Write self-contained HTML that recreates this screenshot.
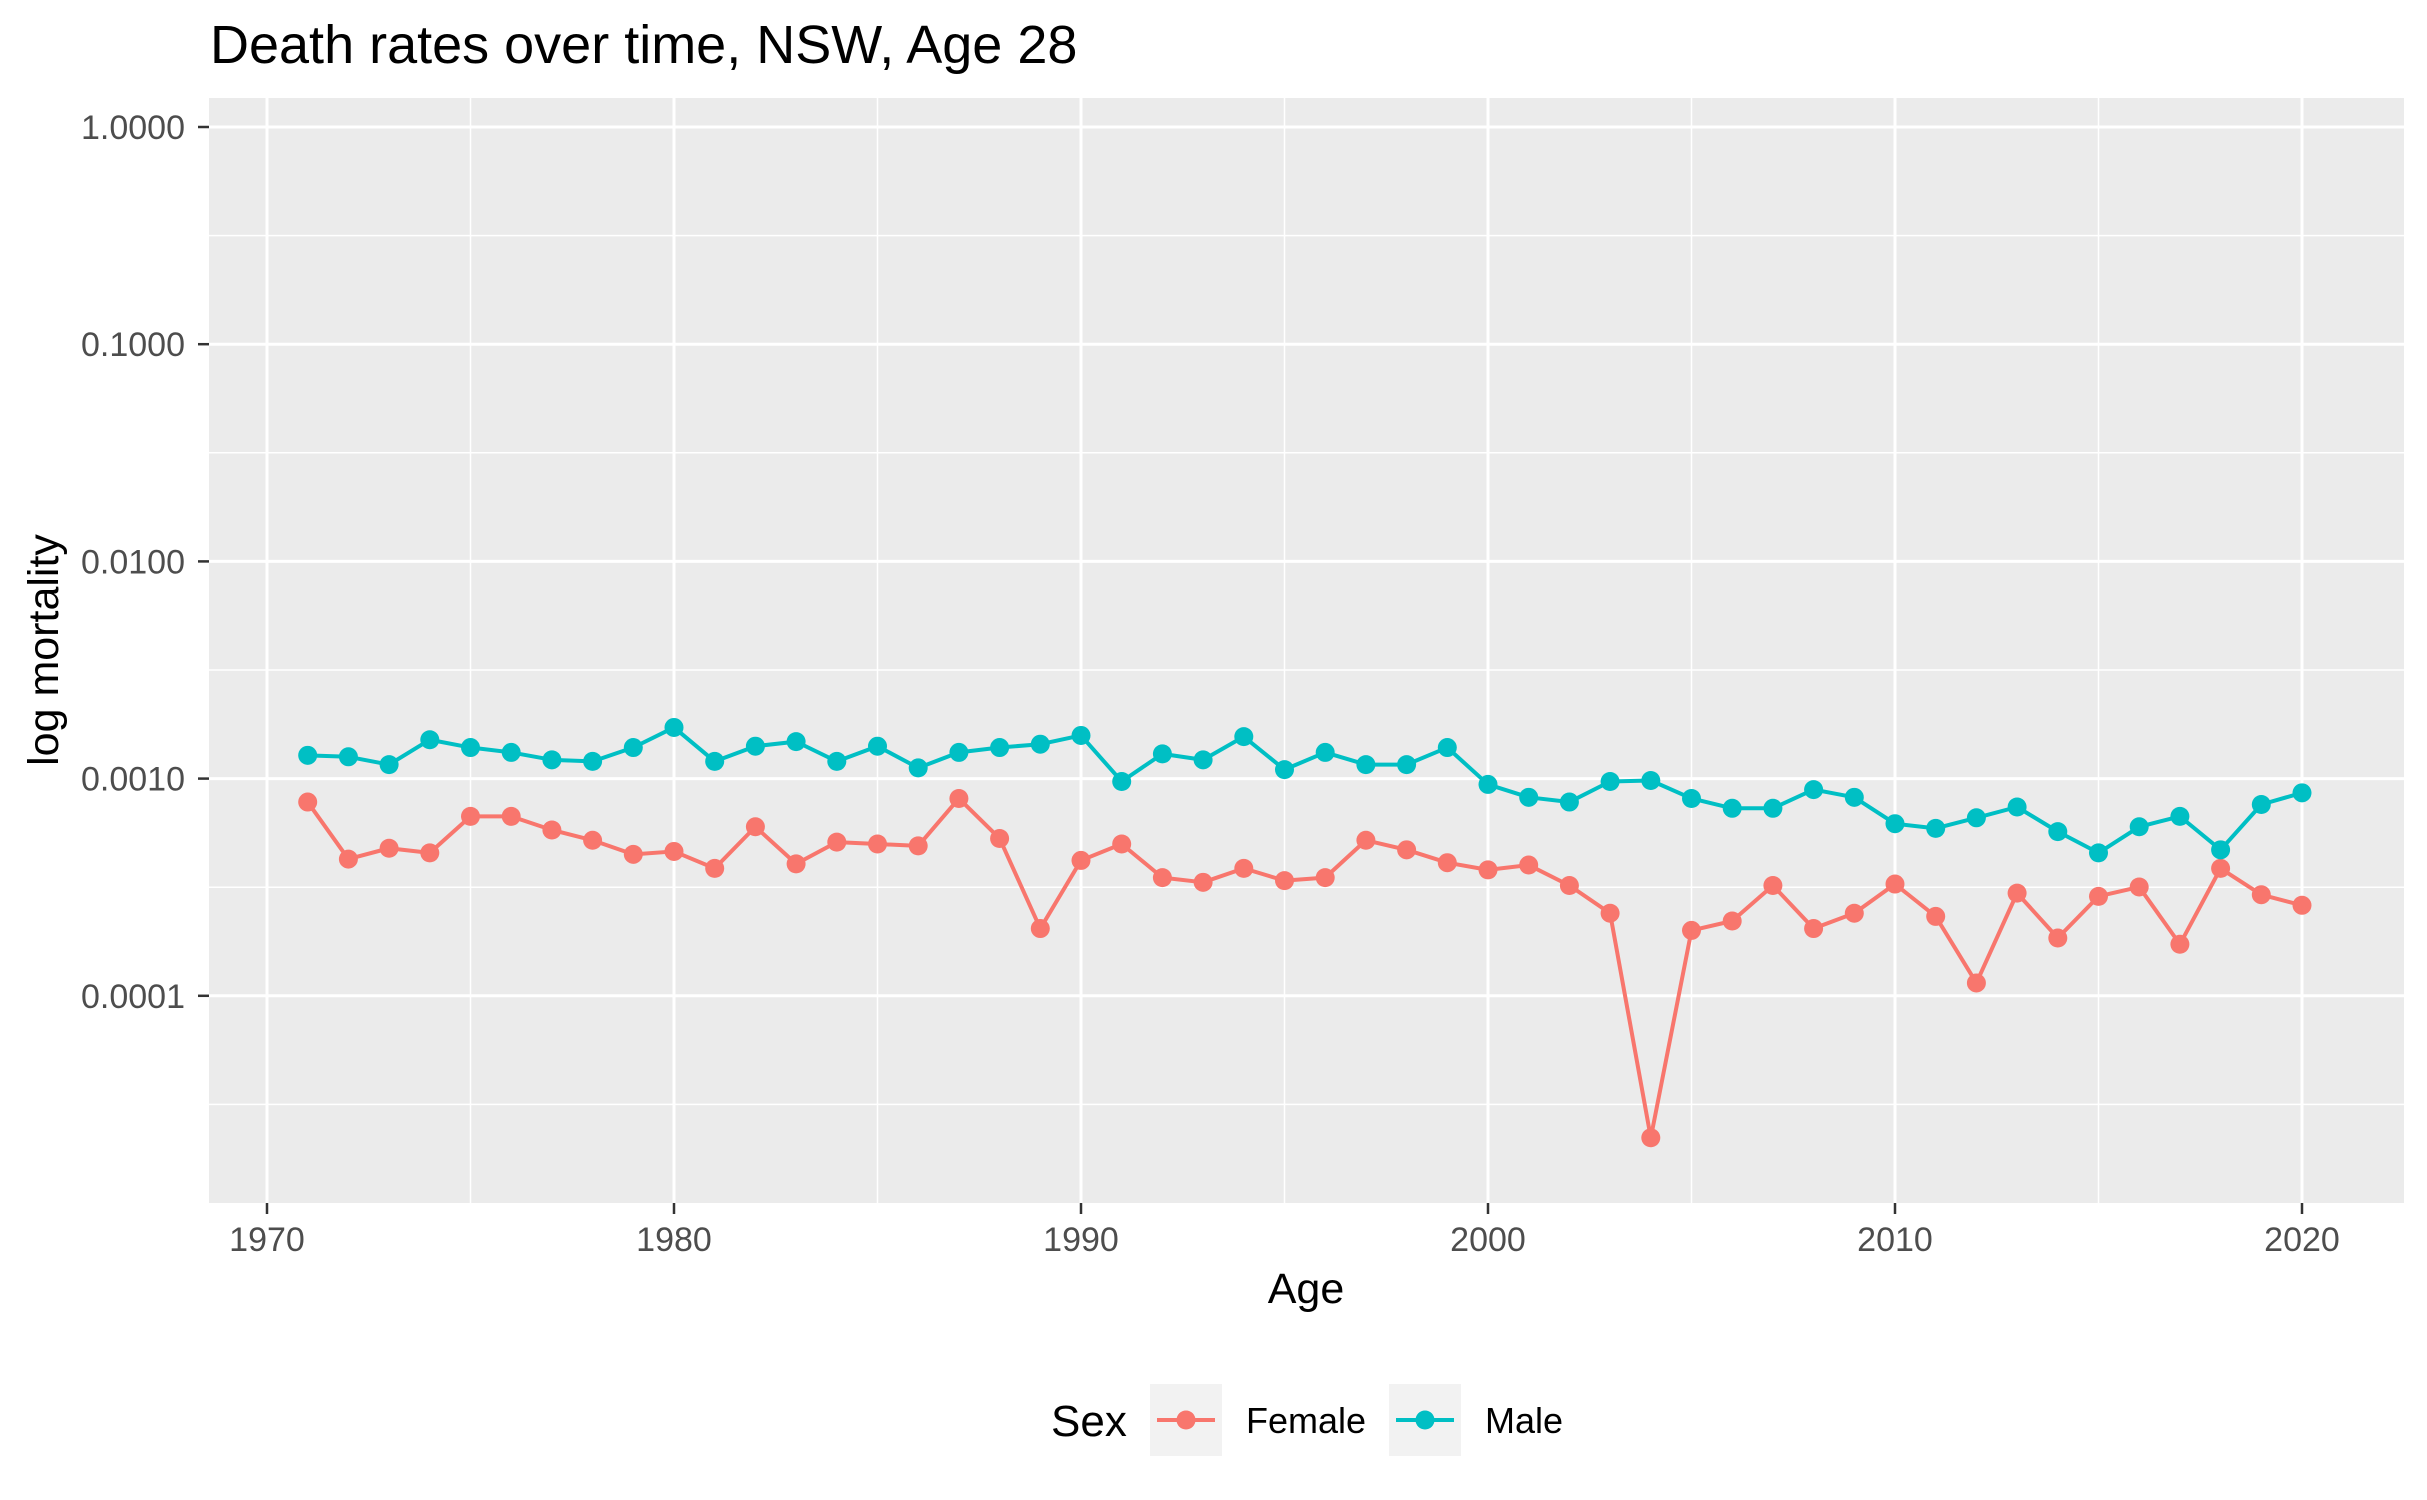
<!DOCTYPE html>
<html><head><meta charset="utf-8"><style>
html,body{margin:0;padding:0;background:#fff;}
svg{display:block;font-family:"Liberation Sans",Arial,sans-serif;}
</style></head><body>
<svg id="chart" width="2427" height="1500" viewBox="0 0 2427 1500" xmlns="http://www.w3.org/2000/svg">
<rect x="0" y="0" width="2427" height="1500" fill="#fff"/>
<text x="210" y="63" font-size="54" fill="#000">Death rates over time, NSW, Age 28</text>
<rect x="209" y="98" width="2195" height="1105" fill="#ebebeb"/>
<g id="grid"></g>
<g id="axes"></g>
<g id="series"></g>
<text x="1306" y="1303" font-size="43" text-anchor="middle" fill="#000">Age</text>
<text transform="translate(58,650) rotate(-90)" font-size="43" text-anchor="middle" fill="#000">log mortality</text>
<g>
<text x="1051" y="1436" font-size="44" fill="#000">Sex</text>
<g>
<rect x="1150" y="1384" width="72" height="72" fill="#f2f2f2"/>
<line x1="1157" y1="1420" x2="1215" y2="1420" stroke="#f8766d" stroke-width="4"/>
<circle cx="1186" cy="1420" r="9.5" fill="#f8766d"/>
<text x="1246" y="1433" font-size="36" fill="#000">Female</text>
</g>
<g>
<rect x="1389" y="1384" width="72" height="72" fill="#f2f2f2"/>
<line x1="1396" y1="1420" x2="1454" y2="1420" stroke="#00bfc4" stroke-width="4"/>
<circle cx="1425" cy="1420" r="9.5" fill="#00bfc4"/>
<text x="1485" y="1433" font-size="36" fill="#000">Male</text>
</g>
</g>
</svg>
<script>
const years = [];
for (let y = 1971; y <= 2020; y++) years.push(y);
const maleValues = [1.28,1.26,1.16,1.51,1.39,1.32,1.22,1.20,1.39,1.72,1.20,1.41,1.48,1.20,1.41,1.12,1.32,1.39,1.44,1.58,0.97,1.30,1.22,1.56,1.10,1.32,1.16,1.16,1.39,0.94,0.82,0.78,0.97,0.98,0.81,0.73,0.73,0.89,0.82,0.62,0.59,0.66,0.74,0.57,0.455,0.60,0.67,0.47,0.76,0.86].map(v=>v*1e-3);
const femaleValues = [0.78,0.426,0.478,0.455,0.67,0.67,0.58,0.52,0.448,0.462,0.386,0.60,0.405,0.51,0.50,0.49,0.81,0.53,0.204,0.42,0.50,0.35,0.333,0.386,0.339,0.35,0.52,0.47,0.41,0.38,0.40,0.322,0.24,0.0222,0.20,0.221,0.322,0.204,0.24,0.327,0.232,0.1146,0.297,0.1845,0.287,0.317,0.1727,0.386,0.292,0.261].map(v=>v*1e-3);
const xTicks = [1970,1980,1990,2000,2010,2020];
const yTicks = [1,0.1,0.01,0.001,0.0001];
const yTickLabels = ["1.0000","0.1000","0.0100","0.0010","0.0001"];

const NS = "http://www.w3.org/2000/svg";
const PL = 209, PR = 2404, PT = 98, PB = 1203;
function xs(yr){ return 267 + (yr - 1970) * 40.7; }
function ys(v){ return 127 + (-Math.log10(v)) * 217.2; }
function mk(tag, attrs, parent){
  const e = document.createElementNS(NS, tag);
  for (const k in attrs) e.setAttribute(k, attrs[k]);
  parent.appendChild(e); return e;
}
const grid = document.getElementById('grid');
const axes = document.getElementById('axes');
const series = document.getElementById('series');

for (let yr = 1965; yr <= 2025; yr += 10) {
  const x = xs(yr); if (x < PL || x > PR) continue;
  const l = mk('line', {x1:x, x2:x, y1:PT, y2:PB, stroke:'#fff', 'stroke-width':1.5}, grid);
  
  
}
for (let e = 0.5; e <= 5; e += 1) {
  const y = ys(Math.pow(10, -e)); if (y < PT || y > PB) continue;
  const l = mk('line', {x1:PL, x2:PR, y1:y, y2:y, stroke:'#fff', 'stroke-width':1.5}, grid);
  
  
}
xTicks.forEach(t => {
  const x = xs(t);
  const l = mk('line', {x1:x, x2:x, y1:PT, y2:PB, stroke:'#fff', 'stroke-width':3}, grid);
  
  
  const tk = mk('line', {x1:x, x2:x, y1:PB, y2:PB+11, stroke:'#333', 'stroke-width':2.5}, axes);
  
  
  const tx = mk('text', {x:x, y:1251, 'font-size':34, 'text-anchor':'middle', fill:'#4d4d4d'}, axes);
  tx.textContent = t;
  
  
});
yTicks.forEach((t, i) => {
  const y = ys(t);
  const l = mk('line', {x1:PL, x2:PR, y1:y, y2:y, stroke:'#fff', 'stroke-width':3}, grid);
  
  
  const tk = mk('line', {x1:PL-11, x2:PL, y1:y, y2:y, stroke:'#333', 'stroke-width':2.5}, axes);
  
  
  const tx = mk('text', {x:185, y:y+12, 'font-size':34, 'text-anchor':'end', fill:'#4d4d4d'}, axes);
  tx.textContent = yTickLabels[i];
  
  
});
function drawSeries(vals, color, name){
  const g = mk('g', {}, series);
  
  
  const pts = vals.map((v, i) => xs(years[i]) + ',' + ys(v)).join(' ');
  const pl = mk('polyline', {points:pts, fill:'none', stroke:color, 'stroke-width':4, 'stroke-linejoin':'round'}, g);
  
  
  vals.forEach((v, i) => {
    const c = mk('circle', {cx:xs(years[i]), cy:ys(v), r:9.5, fill:color}, g);
    
    
  });
}
drawSeries(femaleValues, '#f8766d', 'female');
drawSeries(maleValues, '#00bfc4', 'male');
</script>
</body></html>
